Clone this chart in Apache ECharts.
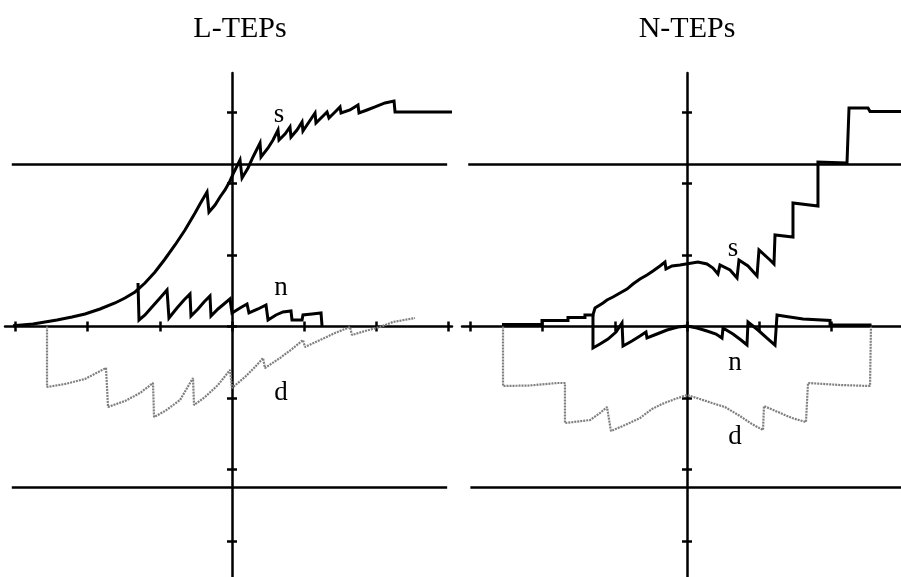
<!DOCTYPE html>
<html>
<head>
<meta charset="utf-8">
<script src="https://cdn.jsdelivr.net/npm/echarts@6/dist/echarts.min.js"></script>
<style>
html,body{margin:0;padding:0;background:#fff;}
#chart{width:901px;height:577px;}
</style>
</head>
<body>
<div id="chart"></div>
<script>
// ---- data (x in SD units, y in response units) ----
const panelTitles = ['L-TEPs', 'N-TEPs'];
const curveNames = ['s', 'n', 'd'];
const xTicksLeft = [-3, -2, -1, 0, 1, 2, 3];
const xTicksRight = [-3, -2, -1, 0, 1, 2];
const yTicks = [-3, -2, -1, 0, 1, 2, 3];
const refLevels = [2.27, -2.25];

const lS = [[-3.033,0.01],[-2.756,0.035],[-2.424,0.091],[-2.216,0.133],[-2.036,0.175],[-1.828,0.245],[-1.620,0.329],[-1.482,0.399],[-1.343,0.483],[-1.205,0.608],[-1.066,0.762],[-0.928,0.944],[-0.789,1.140],[-0.651,1.350],[-0.512,1.587],[-0.443,1.713],[-0.346,1.881],[-0.319,1.601],[-0.235,1.699],[-0.166,1.811],[-0.097,1.909],[-0.028,2.035],[0.028,2.161],[0.111,2.329],[0.139,2.077],[0.222,2.217],[0.291,2.371],[0.388,2.566],[0.402,2.371],[0.499,2.497],[0.568,2.608],[0.637,2.748],[0.651,2.608],[0.734,2.692],[0.803,2.790],[0.817,2.650],[0.900,2.748],[0.970,2.860],[0.983,2.734],[1.066,2.860],[1.150,2.986],[1.163,2.846],[1.247,2.930],[1.316,3.000],[1.343,2.916],[1.427,3.000],[1.496,3.070],[1.510,2.986],[1.634,3.028],[1.745,3.098],[1.759,2.986],[1.870,3.028],[1.981,3.070],[2.119,3.126],[2.244,3.154],[2.258,3.000],[3.047,3.000]];
const lN = [[-1.302,0.608],[-1.288,0.091],[-1.205,0.161],[-1.108,0.273],[-0.997,0.399],[-0.900,0.510],[-0.873,0.119],[-0.762,0.259],[-0.665,0.371],[-0.582,0.455],[-0.568,0.147],[-0.471,0.245],[-0.388,0.343],[-0.305,0.427],[-0.291,0.147],[-0.194,0.245],[-0.111,0.315],[-0.028,0.385],[0,0.189],[0.111,0.259],[0.208,0.315],[0.235,0.189],[0.360,0.245],[0.471,0.301],[0.499,0.091],[0.609,0.161],[0.706,0.203],[0.817,0.217],[0.831,0.091],[0.970,0.091],[0.983,0.161],[1.108,0.175],[1.233,0.189],[1.247,0.007]];
const lD = [[-2.562,0],[-2.562,-0.846],[-2.313,-0.804],[-2.036,-0.734],[-1.745,-0.580],[-1.717,-1.126],[-1.482,-1.042],[-1.274,-0.930],[-1.094,-0.790],[-1.080,-1.266],[-0.928,-1.182],[-0.720,-1.028],[-0.540,-0.720],[-0.526,-1.098],[-0.374,-0.986],[-0.194,-0.818],[-0.028,-0.608],[0,-0.860],[0.180,-0.706],[0.319,-0.566],[0.429,-0.441],[0.457,-0.580],[0.665,-0.441],[0.831,-0.315],[0.983,-0.189],[1.011,-0.287],[1.219,-0.189],[1.427,-0.091],[1.634,-0.007],[1.662,-0.119],[1.842,-0.063],[2.050,-0.007],[2.230,0.063],[2.535,0.119]];

const rS = [[-2.562,0.028],[-2.008,0.028],[-2.008,0.084],[-1.648,0.084],[-1.648,0.126],[-1.413,0.126],[-1.413,0.161],[-1.302,0.161],[-1.274,0.259],[-1.163,0.329],[-1.108,0.371],[-1.025,0.413],[-0.928,0.469],[-0.831,0.524],[-0.748,0.594],[-0.651,0.664],[-0.554,0.720],[-0.471,0.776],[-0.374,0.846],[-0.305,0.902],[-0.291,0.804],[-0.208,0.846],[-0.097,0.860],[0.152,0.902],[0.277,0.874],[0.360,0.818],[0.429,0.734],[0.457,0.860],[0.596,0.790],[0.693,0.678],[0.720,0.930],[0.845,0.846],[0.970,0.706],[0.997,1.070],[1.150,0.930],[1.205,0.874],[1.219,1.280],[1.468,1.252],[1.468,1.727],[1.814,1.685],[1.814,2.301],[2.216,2.287],[2.244,3.056],[2.507,3.056],[2.535,3.007],[2.964,3.007]];
const rN = [[-1.302,0.161],[-1.302,-0.301],[-1.205,-0.245],[-1.094,-0.175],[-0.983,-0.077],[-0.900,0.049],[-0.886,-0.273],[-0.762,-0.203],[-0.651,-0.133],[-0.568,-0.077],[-0.554,-0.161],[-0.416,-0.105],[-0.277,-0.049],[-0.125,-0.007],[0,0.007],[0.139,-0.021],[0.277,-0.063],[0.402,-0.105],[0.485,-0.161],[0.499,-0.021],[0.637,-0.105],[0.748,-0.189],[0.831,-0.259],[0.845,0.063],[0.983,-0.049],[1.108,-0.161],[1.219,-0.259],[1.247,0.161],[1.330,0.147],[1.607,0.105],[1.981,0.084],[1.981,0.021],[2.535,0.021],[2.535,0]];
const rD = [[-2.548,0],[-2.548,-0.832],[-2.175,-0.825],[-1.801,-0.790],[-1.690,-0.790],[-1.690,-1.350],[-1.343,-1.308],[-1.205,-1.210],[-1.108,-1.126],[-1.053,-1.462],[-0.859,-1.378],[-0.651,-1.280],[-0.485,-1.154],[-0.346,-1.084],[-0.166,-1.014],[0,-0.958],[0.180,-1.014],[0.346,-1.070],[0.526,-1.126],[0.734,-1.252],[0.900,-1.364],[1.053,-1.448],[1.066,-1.112],[1.260,-1.196],[1.454,-1.280],[1.648,-1.336],[1.676,-0.790],[2.119,-0.818],[2.535,-0.832],[2.548,0]];

// ---- layout / style ----
const SERIF = '"Liberation Serif", "DejaVu Serif", serif';
const AX = '#000';
const yMin = -3.503, yMax = 3.545;
const panels = [
  {grid:{left:5, top:73, width:447, height:504}, xMin:-3.144, xMax:3.047, ticks:xTicksLeft, ref:[[-3.05,2.98],[-3.05,2.98]]},
  {grid:{left:462, top:73, width:439, height:504}, xMin:-3.116, xMax:2.964, ticks:xTicksRight, ref:[[-3.03,2.964],[-3.0,2.964]]}
];

const xAxis = [], yAxis = [], series = [];
panels.forEach((p, gi) => {
  const base = gi * 2;
  ['bottom', 'top'].forEach(pos => xAxis.push({
    type:'value', gridIndex:gi, position:pos, min:p.xMin, max:p.xMax,
    axisLine:{show: pos==='bottom', onZero:true, onZeroAxisIndex:base, lineStyle:{color:AX, width:2.5}},
    axisTick:{show:true, length:5, customValues:p.ticks, lineStyle:{color:AX, width:2.5}},
    axisLabel:{show:false}, splitLine:{show:false}
  }));
  ['left', 'right'].forEach(pos => yAxis.push({
    type:'value', gridIndex:gi, position:pos, min:yMin, max:yMax,
    axisLine:{show: pos==='left', onZero:true, onZeroAxisIndex:base, lineStyle:{color:AX, width:2.5}},
    axisTick:{show:true, length:5, customValues:yTicks, lineStyle:{color:AX, width:2.5}},
    axisLabel:{show:false}, splitLine:{show:false}
  }));
});

const dataSets = [[lS, lN, lD], [rS, rN, rD]];
dataSets.forEach((sets, gi) => {
  sets.forEach((d, k) => {
    const isD = k === 2;
    const s = {
      type:'line', name: panelTitles[gi] + ' ' + curveNames[k],
      xAxisIndex: gi*2, yAxisIndex: gi*2, data:d,
      showSymbol:false, symbol:'none', silent:true, z: isD ? 2 : 3,
      lineStyle: isD ? {color:'#7f7f7f', width:2.2, type:[2,1]} : {color:'#000', width:3, join:'miter'}
    };
    if (k === 0) {
      const p = panels[gi];
      s.markLine = {
        symbol:'none', silent:true, label:{show:false},
        lineStyle:{color:'#000', width:2.5, type:'solid'},
        data: refLevels.map((lv, i) => [{coord:[p.ref[i][0], lv]}, {coord:[p.ref[i][1], lv]}])
      };
    }
    series.push(s);
  });
});

const txt = (x, y, t, size) => ({type:'text', x, y, silent:true,
  style:{text:t, font: size + 'px ' + SERIF, fill:'#000', align:'center', verticalAlign:'middle'}});

const chart = echarts.init(document.getElementById('chart'), null, {renderer:'canvas'});
chart.setOption({
  animation:false,
  backgroundColor:'#fff',
  grid: panels.map(p => p.grid),
  xAxis, yAxis, series,
  graphic: [
    txt(240, 29, panelTitles[0], 30),
    txt(687, 29, panelTitles[1], 30),
    txt(279, 115, 's', 27), txt(281, 288, 'n', 27), txt(281, 393, 'd', 27),
    txt(733, 249, 's', 27), txt(735, 363, 'n', 27), txt(735, 437, 'd', 27)
  ]
});
</script>
</body>
</html>
